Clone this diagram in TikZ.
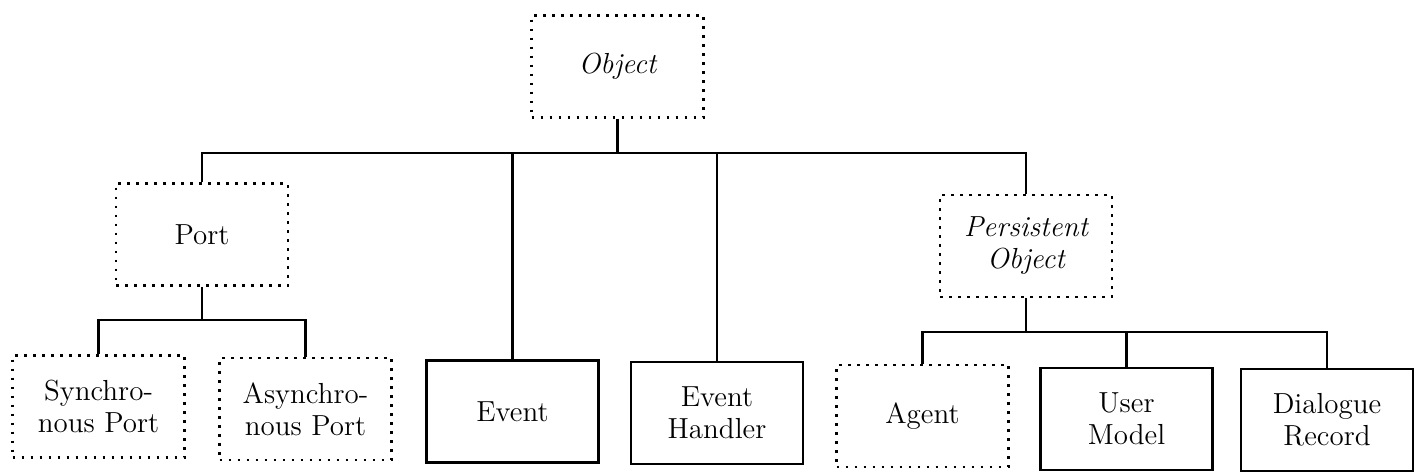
\documentclass[tikz,border=0pt]{standalone}
\begin{document}
\begin{tikzpicture}[x=0.5pt, y=-0.5pt,
  box/.style={minimum width=86pt, minimum height=51pt, inner sep=2pt,
    align=center, font=\fontsize{14.5}{16}\selectfont},
  solidbox/.style={box, draw, line width=1.2pt},
  dotbox/.style={box, draw, line width=1.3pt, dash pattern=on 1.3pt off 3.2pt},
  conn/.style={draw, line width=1.1pt}]
\useasboundingbox (0,0) rectangle (1415,472);

% class hierarchy boxes
\node[dotbox]   (obj)   at (617.5,66.5) {\itshape Object};
\node[dotbox]   (port)  at (202,234.5)  {Port};
\node[dotbox]   (pers)  at (1026,246)   {\itshape Persistent\\\itshape Object};
\node[dotbox]   (sync)  at (98.5,406.5) {Synchro-\\nous Port};
\node[dotbox]   (async) at (305.5,409)  {Asynchro-\\nous Port};
\node[solidbox] (event) at (512.5,411.5){Event};
\node[solidbox] (eh)    at (717,413)    {Event\\Handler};
\node[dotbox]   (agent) at (922.5,416)  {Agent};
\node[solidbox] (um)    at (1126.5,419) {User\\Model};
\node[solidbox] (dr)    at (1327,420)   {Dialogue\\Record};

% bus levels
\coordinate (busA) at (0,153);
\coordinate (busB) at (0,320);
\coordinate (busC) at (0,332);

% Object -> children
\draw[conn] (obj.south) -- (obj.south |- busA);
\draw[conn] (port.north) -- (port.north |- busA) -| (pers.north);
\draw[conn] (event.north) -- (event.north |- busA);
\draw[conn] (eh.north) -- (eh.north |- busA);

% Port -> children
\draw[conn] (port.south) -- (port.south |- busB);
\draw[conn] (sync.north) -- (sync.north |- busB) -| (async.north);

% Persistent Object -> children
\draw[conn] (pers.south) -- (pers.south |- busC);
\draw[conn] (agent.north) -- (agent.north |- busC) -| (dr.north);
\draw[conn] (um.north) -- (um.north |- busC);
\end{tikzpicture}
\end{document}
